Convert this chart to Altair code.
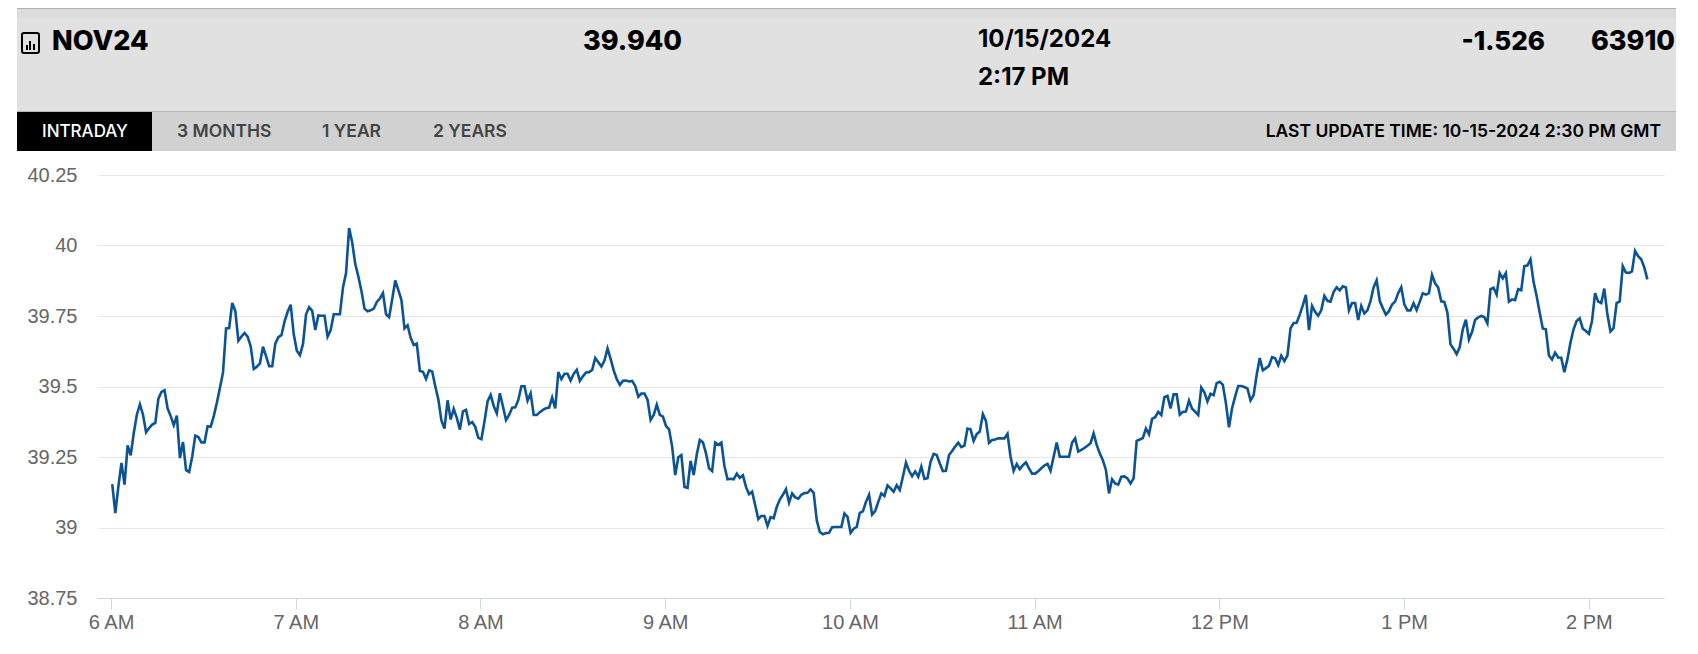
import datetime as dt
import altair as alt
import pandas as pd

# Prices, one vertex per minute from about 6:00 AM
prices_a = [
 39.154,39.051,39.146,39.229,39.152,39.291,39.256,39.335,39.400,39.437,39.400,39.338,39.353,39.365,39.371,39.457,39.481,39.487,39.422,39.395,
 39.363,39.397,39.246,39.303,39.203,39.197,39.252,39.326,39.321,39.302,39.302,39.359,39.357,39.395,39.442,39.495,39.549,39.706,39.707,39.796,
 39.768,39.662,39.677,39.690,39.677,39.643,39.562,39.570,39.582,39.641,39.608,39.572,39.572,39.652,39.675,39.682,39.730,39.764,39.790,39.685,
 39.627,39.611,39.650,39.756,39.781,39.768,39.700,39.752,39.751,39.751,39.677,39.700,39.756,39.756,39.756,39.851,39.902,40.062,40.011,39.934,
 39.890,39.839,39.776,39.767,39.770,39.776,39.800,39.812,39.831,39.756,39.746,39.809,39.876,39.842,39.807,39.706,39.717,39.673,39.647,39.652,
 39.555,39.552,39.527,39.557,39.553,39.501,39.454,39.380,39.351,39.451,39.383,39.421,39.389,39.347,39.412,39.417,39.367,39.374,39.357,39.318,39.313,
]
prices_b = [
 39.376,39.447,39.470,39.431,39.405,39.476,39.429,39.381,39.399,39.425,39.426,39.453,39.501,39.501,39.450,39.476,39.399,39.399,39.409,39.417,
 39.423,39.425,39.461,39.422,39.551,39.526,39.545,39.545,39.521,39.545,39.559,39.520,39.536,39.550,39.551,39.559,39.601,39.586,39.571,39.592,
 39.635,39.598,39.557,39.526,39.506,39.520,39.521,39.518,39.520,39.502,39.464,39.475,39.475,39.453,39.381,39.399,39.435,39.399,39.393,39.360,
 39.348,39.287,39.186,39.249,39.257,39.144,39.141,39.236,39.186,39.259,39.310,39.302,39.263,39.210,39.200,39.301,39.293,39.301,39.218,39.171,
 39.173,39.171,39.191,39.176,39.185,39.144,39.118,39.127,39.079,39.030,39.041,39.041,39.006,39.037,39.033,39.073,39.099,39.116,39.136,39.088,
 39.121,39.107,39.102,39.116,39.122,39.123,39.135,39.123,39.026,38.984,38.976,38.980,38.981,39.001,39.002,39.002,39.002,39.050,39.038,38.981,
 38.996,39.002,39.052,39.057,39.091,39.116,39.046,39.058,39.091,39.121,39.112,39.149,39.139,39.127,39.150,39.133,39.180,39.230,39.201,39.182,
 39.199,39.180,39.216,39.172,39.175,39.233,39.261,39.257,39.227,39.200,39.201,39.257,
]
prices_c = [
 39.271,39.287,39.301,39.285,39.290,39.351,39.348,39.307,39.331,39.340,39.402,39.378,39.300,39.310,39.312,39.316,39.316,39.316,39.332,39.251,
 39.201,39.225,39.207,39.221,39.231,39.210,39.191,39.191,39.199,39.210,39.220,39.226,39.201,39.251,39.301,39.251,39.251,39.251,39.251,39.301,
 39.316,39.269,39.275,39.282,39.290,39.299,39.334,39.293,39.263,39.239,39.204,39.121,39.171,39.156,39.152,39.180,39.181,39.174,39.156,39.174,
 39.307,39.312,39.317,39.351,39.331,39.385,39.391,39.410,39.399,39.462,39.467,39.422,39.472,39.472,39.400,39.410,39.411,39.450,39.421,39.411,
 39.399,39.496,39.479,39.447,39.474,39.469,39.512,39.517,39.506,39.441,39.355,39.423,39.464,39.502,39.502,39.498,39.493,39.451,39.469,39.541,
 39.601,39.557,39.565,39.573,39.604,39.600,39.576,39.609,39.590,39.610,39.706,39.725,39.726,39.755,
]
prices_d = [
 39.788,39.825,39.700,39.786,39.765,39.751,39.770,39.821,39.804,39.801,39.835,39.852,39.841,39.855,39.851,39.770,39.796,39.796,39.736,39.786,
 39.759,39.770,39.803,39.851,39.877,39.804,39.778,39.755,39.767,39.791,39.801,39.831,39.852,39.791,39.770,39.770,39.795,39.771,39.800,39.831,
 39.826,39.831,39.896,39.866,39.851,39.802,39.800,39.762,39.650,39.634,39.615,39.639,39.703,39.737,39.667,39.693,39.736,39.745,39.750,39.746,
 39.724,39.845,39.850,39.826,39.902,39.883,39.902,39.801,39.809,39.806,39.845,39.841,39.927,39.929,39.951,39.871,39.821,39.762,39.706,39.703,
 39.610,39.596,39.620,39.603,39.602,39.551,39.596,39.655,39.703,39.732,39.742,39.705,39.697,39.687,39.732,39.831,39.801,39.796,39.847,39.756,
 39.695,39.707,39.796,39.802,39.927,39.904,39.903,39.908,39.981,39.962,39.951,39.922,39.880,
]
prices = prices_a + prices_b + prices_c + prices_d
y_ticks = [38.75, 39, 39.25, 39.5, 39.75, 40, 40.25]
hours = [6, 7, 8, 9, 10, 11, 12, 13, 14]
tabs = ["INTRADAY", "3 MONTHS", "1 YEAR", "2 YEARS"]

LEFT, TOP = 89, 167   # svg padding; the plot area starts here
base = dt.datetime(2024, 10, 15, 6, 0, 24)
step = 498.6 / (len(prices) - 1)
df = pd.DataFrame({
    "t": [base + dt.timedelta(minutes=i * step) for i in range(len(prices))],
    "p": prices,
})

def day(h, m=0, s=0):
    return alt.DateTime(year=2024, month=10, date=15, hours=h, minutes=m, seconds=s)

line = alt.Chart(df).mark_line(color="#0b5394", strokeWidth=2.6, interpolate="linear").encode(
    x=alt.X("t:T", title=None,
            scale=alt.Scale(domain=[day(5, 55, 27), day(14, 24, 24)]),
            axis=alt.Axis(values=[day(h) for h in hours],
                          labelExpr="timeFormat(datum.value, '%-I %p')",
                          grid=False, domainColor="#ccd6eb", tickColor="#ccd6eb",
                          tickSize=11, labelFontSize=20, labelColor="#666666",
                          labelFont="Liberation Sans", labelPadding=3,
                          labelOverlap=False, labelFlush=False)),
    y=alt.Y("p:Q", title=None,
            scale=alt.Scale(domain=[38.75, 40.25], nice=False, zero=False),
            axis=alt.Axis(values=y_ticks, format=".2~f", grid=True, gridColor="#e6e6e6",
                          domain=False, ticks=False, labelFontSize=20, labelColor="#666666",
                          labelFont="Liberation Sans", labelPadding=20)),
)

one = alt.Data(values=[{"k": 1}])

def box(x0, x1, y0, y1, color, **kw):
    return alt.Chart(one).mark_rect(color=color, **kw).encode(
        x=alt.value(x0 - LEFT - 8), x2=alt.value(x1 - LEFT - 8),
        y=alt.value(y0 - TOP - 8), y2=alt.value(y1 - TOP - 8))

def label(s, x, y, size, weight=800, color="#000000", align="left", font="Inter"):
    return alt.Chart(one).mark_text(align=align, baseline="alphabetic", fontSize=size,
                                    fontWeight=weight, font=font, color=color).encode(
        x=alt.value(x - LEFT - 8), y=alt.value(y - TOP - 8), text=alt.value(s))

chrome = [
    box(17, 1676, 8, 111, "#e1e1e1"),
    box(17, 1676, 8, 18, "#dcdcdc"),
    box(17, 1676, 8, 9, "#b0b0b0"),
    box(17, 1676, 111, 151, "#d1d1d1"),
    box(17, 1676, 111, 112, "#b8b8b8"),
    box(17, 152, 112, 151, "#000000"),
    # file-chart icon
    alt.Chart(one).mark_rect(fillOpacity=0, stroke="#000000", strokeWidth=2, cornerRadius=2).encode(
        x=alt.value(22 - LEFT - 8), x2=alt.value(39 - LEFT - 8),
        y=alt.value(33 - TOP - 8), y2=alt.value(53 - TOP - 8)),
    box(26, 28, 45, 50, "#000000"),
    box(29, 31, 41, 50, "#000000"),
    box(33, 35, 44, 50, "#000000"),
    label("NOV24", 52, 50, 27),
    label("39.940", 583, 50, 27),
    label("10/15/2024", 978, 47, 24, 700),
    label("2:17 PM", 978, 85, 24, 700),
    label("-1.526", 1545, 50, 26, align="right"),
    label("63910", 1675, 50, 27, align="right"),
    label(tabs[0], 42, 137, 17, 500, "#ffffff"),
    label(tabs[1], 177, 137, 17.5, 600, "#444444"),
    label(tabs[2], 322, 137, 17.5, 600, "#444444"),
    label(tabs[3], 433, 137, 17.5, 600, "#444444"),
    label("LAST UPDATE TIME: 10-15-2024 2:30 PM GMT", 1661, 137, 17.5, 600, align="right"),
]

chart = alt.layer(*chrome, line).properties(
    width=1567, height=423,
    padding={"left": LEFT, "top": TOP, "right": 26, "bottom": 47},
    autosize=alt.AutoSizeParams(type="none"),
).configure_view(stroke=None).configure_axis(labelFontWeight="normal")

chart.save("out.html", embed_options={"renderer": "svg", "actions": False})
